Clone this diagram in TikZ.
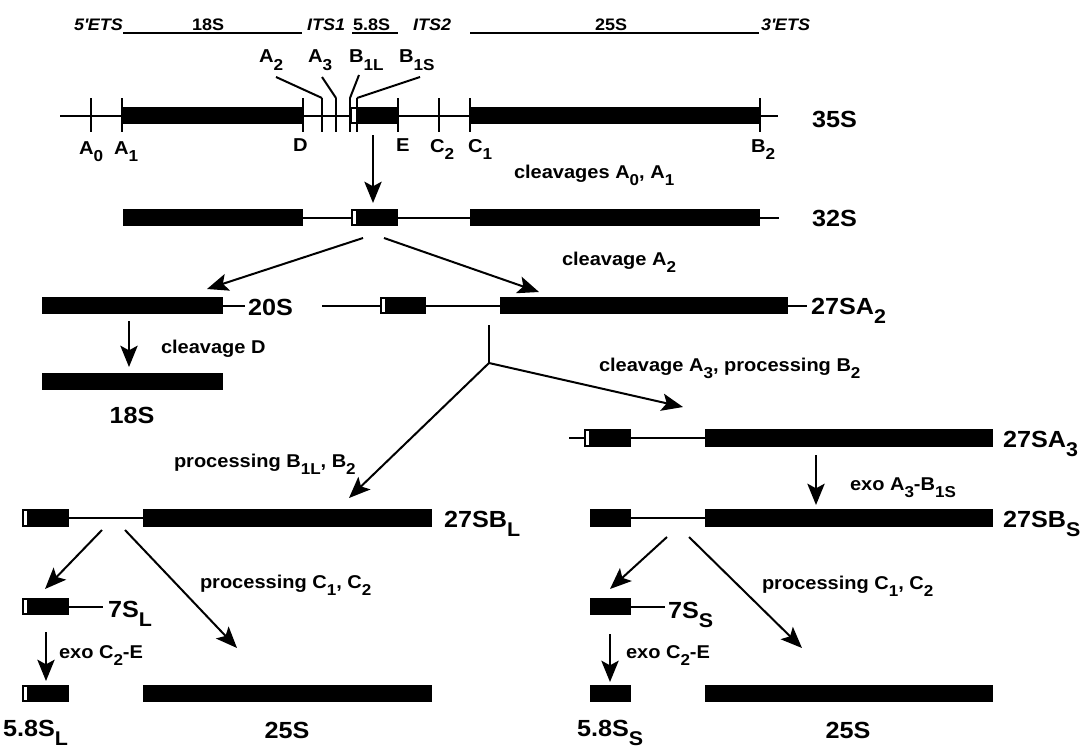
\documentclass[tikz,border=0pt]{standalone}
\usepackage{fontspec}
\setmainfont[FakeStretch=1.08]{Liberation Sans}
\usetikzlibrary{arrows.meta}
\newcommand\sbs[1]{\raisebox{-0.4em}{\scalebox{0.85}{#1}}}
\newcommand\fbig{\fontsize{17.5}{20}\selectfont\bfseries}
\newcommand\fmed{\fontsize{13.9}{16}\selectfont\bfseries}
\newcommand\fsite{\fontsize{14}{16}\selectfont\bfseries}
\newcommand\fhead{\fontsize{12.5}{14}\selectfont\bfseries}
\newcommand\blk[3]{\fill[black] (#1,#3-8.75) rectangle (#2,#3+8.75);}
\newcommand\wht[2]{\fill[white] (#1+1.6,#2-6.8) rectangle (#1+5.4,#2+6.8);}
\begin{document}
\begin{tikzpicture}[x=0.75pt,y=-0.75pt,line width=1.5pt,
  lbl/.style={inner sep=0pt,anchor=base west},
  big/.style={lbl,font=\fbig},
  med/.style={lbl,font=\fmed},
  site/.style={lbl,font=\fsite},
  head/.style={lbl,font=\fhead},
  arr/.style={-{Stealth[length=16pt,width=13pt,inset=3.5pt]}},
  hline/.style={line width=1pt}]
\useasboundingbox (0,0) rectangle (1084,749);

% ---------- header ----------
\node[head] (h5ets) at (73,31) {\itshape 5\textquotesingle ETS};
\node[head] (h18s) at (191,31) {18S};
\node[head] (hits1) at (306,31) {\itshape ITS1};
\node[head] (h58s) at (352,31) {5.8S};
\node[head] (hits2) at (412,31) {\itshape ITS2};
\node[head] (h25s) at (594,31) {25S};
\node[head] (h3ets) at (760,31) {\itshape 3\textquotesingle ETS};
\coordinate (l18a) at (123,33); \coordinate (l18b) at (302,33);
\coordinate (l58a) at (352,33); \coordinate (l58b) at (398,33);
\coordinate (l25a) at (470,33); \coordinate (l25b) at (759,33);
\draw[hline] (l18a) -- (l18b);
\draw[hline] (l58a) -- (l58b);
\draw[hline] (l25a) -- (l25b);

% ---------- 35S ----------
\draw (60,115.5) -- (778,115.5);
\blk{122}{303}{115.5}
\blk{350}{398}{115.5}
\wht{350.5}{115.5}
\blk{470}{760}{115.5}
\foreach \t/\x in {a0/91,a1/122,d/303,a2/322,a3/336,b1l/350,b1s/357,e/398,c2/439,c1/470,b2/760}{
  \coordinate (t\t) at (\x,98);
  \draw (\x,98) -- (\x,132);
}
\node[site] (sA0) at (78,154) {A\sbs{0}};
\node[site] (sA1) at (113,154) {A\sbs{1}};
\node[site] (sD) at (292,151) {D};
\node[site] (sE) at (395,151) {E};
\node[site] (sC2) at (429,152) {C\sbs{2}};
\node[site] (sC1) at (467,152) {C\sbs{1}};
\node[site] (sB2) at (750,152) {B\sbs{2}};
\node[site] (sA2) at (258,63) {A\sbs{2}};
\node[site] (sA3) at (307,63) {A\sbs{3}};
\node[site] (sB1L) at (348,63) {B\sbs{1L}};
\node[site] (sB1S) at (398,63) {B\sbs{1S}};
\coordinate (la2) at (276,77); \coordinate (la3) at (322,77);
\coordinate (lb1l) at (359,75); \coordinate (lb1s) at (420,77);
\draw (la2) -- (ta2);
\draw (la3) -- (ta3);
\draw (lb1l) -- (tb1l);
\draw (lb1s) -- (tb1s);
\node[big] (n35S) at (811,127) {35S};

% arrow 35S -> 32S
\coordinate (p1s) at (373,135); \coordinate (p1e) at (373,203);
\draw[arr] (p1s) -- (p1e);
\node[med] (c1) at (513,178) {cleavages A\sbs{0}, A\sbs{1}};

% ---------- 32S ----------
\blk{123}{303}{217.5}
\draw (303,217.5) -- (351,217.5);
\blk{351}{398}{217.5}
\wht{351}{217.5}
\draw (398,217.5) -- (470,217.5);
\blk{470}{760}{217.5}
\draw (760,217.5) -- (779,217.5);
\node[big] (n32S) at (811,226) {32S};

\coordinate (p2s) at (363,238); \coordinate (p2e) at (207,289);
\coordinate (p3s) at (384,238); \coordinate (p3e) at (539,292);
\draw[arr] (p2s) -- (p2e);
\draw[arr] (p3s) -- (p3e);
\node[med] (c2) at (561,265) {cleavage A\sbs{2}};

% ---------- 20S / 27SA2 ----------
\blk{42}{223}{305.5}
\draw (223,305.5) -- (245,305.5);
\node[big] (n20S) at (247,315) {20S};
\draw (322,305.5) -- (380,305.5);
\blk{380}{426}{305.5}
\wht{380}{305.5}
\draw (426,305.5) -- (500,305.5);
\blk{500}{788}{305.5}
\draw (788,305.5) -- (807,305.5);
\node[big] (n27SA2) at (810,314) {27SA\sbs{2}};

% cleavage D
\coordinate (p4s) at (129,321); \coordinate (p4e) at (129,367);
\draw[arr] (p4s) -- (p4e);
\node[med] (cD) at (160,353) {cleavage D};
\blk{42}{223}{381.5}
\node[big,anchor=base] (n18S) at (132,423) {18S};

% branch from 27SA2
\coordinate (br0) at (489,325); \coordinate (br1) at (489,363);
\coordinate (brR) at (683,407); \coordinate (brL) at (349,498);
\draw (br0) -- (br1);
\draw[arr] (br1) -- (brR);
\draw[arr] (br1) -- (brL);
\node[med] (c3) at (598,371) {cleavage A\sbs{3}, processing B\sbs{2}};
\node[med] (c4) at (173,467) {processing B\sbs{1L}, B\sbs{2}};

% ---------- right branch ----------
\draw (569,438) -- (584,438);
\blk{584}{631}{438}
\wht{584}{438}
\draw (631,438) -- (705,438);
\blk{705}{993}{438}
\node[big] (n27SA3) at (1002,447) {27SA\sbs{3}};
\coordinate (p5s) at (816,455); \coordinate (p5e) at (816,505);
\draw[arr] (p5s) -- (p5e);
\node[med] (c5) at (849,490) {exo A\sbs{3}-B\sbs{1S}};
\blk{590}{631}{518}
\draw (631,518) -- (705,518);
\blk{705}{993}{518}
\node[big] (n27SBS) at (1002,527) {27SB\sbs{S}};
\coordinate (p6s) at (667,537); \coordinate (p6e) at (610,589);
\coordinate (p7s) at (689,537); \coordinate (p7e) at (802,648);
\draw[arr] (p6s) -- (p6e);
\draw[arr] (p7s) -- (p7e);
\node[med] (c6) at (761,589) {processing C\sbs{1}, C\sbs{2}};
\blk{590}{631}{606.5}
\draw (631,606.5) -- (665,606.5);
\node[big] (n7SS) at (667,618) {7S\sbs{S}};
\coordinate (p8s) at (610,634); \coordinate (p8e) at (610,682);
\draw[arr] (p8s) -- (p8e);
\node[med] (c7) at (625,658) {exo C\sbs{2}-E};
\blk{590}{631}{693.5}
\blk{705}{993}{693.5}
\node[big] (n58SS) at (576,736) {5.8S\sbs{S}};
\node[big,anchor=base] (n25SR) at (848,738) {25S};

% ---------- left branch ----------
\blk{22}{69}{518}
\wht{22}{518}
\draw (69,518) -- (143,518);
\blk{143}{432}{518}
\node[big] (n27SBL) at (443,527) {27SB\sbs{L}};
\coordinate (p9s) at (102,530); \coordinate (p9e) at (45,589);
\coordinate (p10s) at (125,530); \coordinate (p10e) at (237,648);
\draw[arr] (p9s) -- (p9e);
\draw[arr] (p10s) -- (p10e);
\node[med] (c8) at (199,588) {processing C\sbs{1}, C\sbs{2}};
\blk{22}{69}{606.5}
\wht{22}{606.5}
\draw (69,606.5) -- (103,606.5);
\node[big] (n7SL) at (107,617) {7S\sbs{L}};
\coordinate (p11s) at (46,632); \coordinate (p11e) at (46,681);
\draw[arr] (p11s) -- (p11e);
\node[med] (c9) at (58,658) {exo C\sbs{2}-E};
\blk{22}{69}{693.5}
\wht{22}{693.5}
\blk{143}{432}{693.5}
\node[big] (n58SL) at (2,736) {5.8S\sbs{L}};
\node[big,anchor=base] (n25SL) at (287,738) {25S};
\end{tikzpicture}
\end{document}
